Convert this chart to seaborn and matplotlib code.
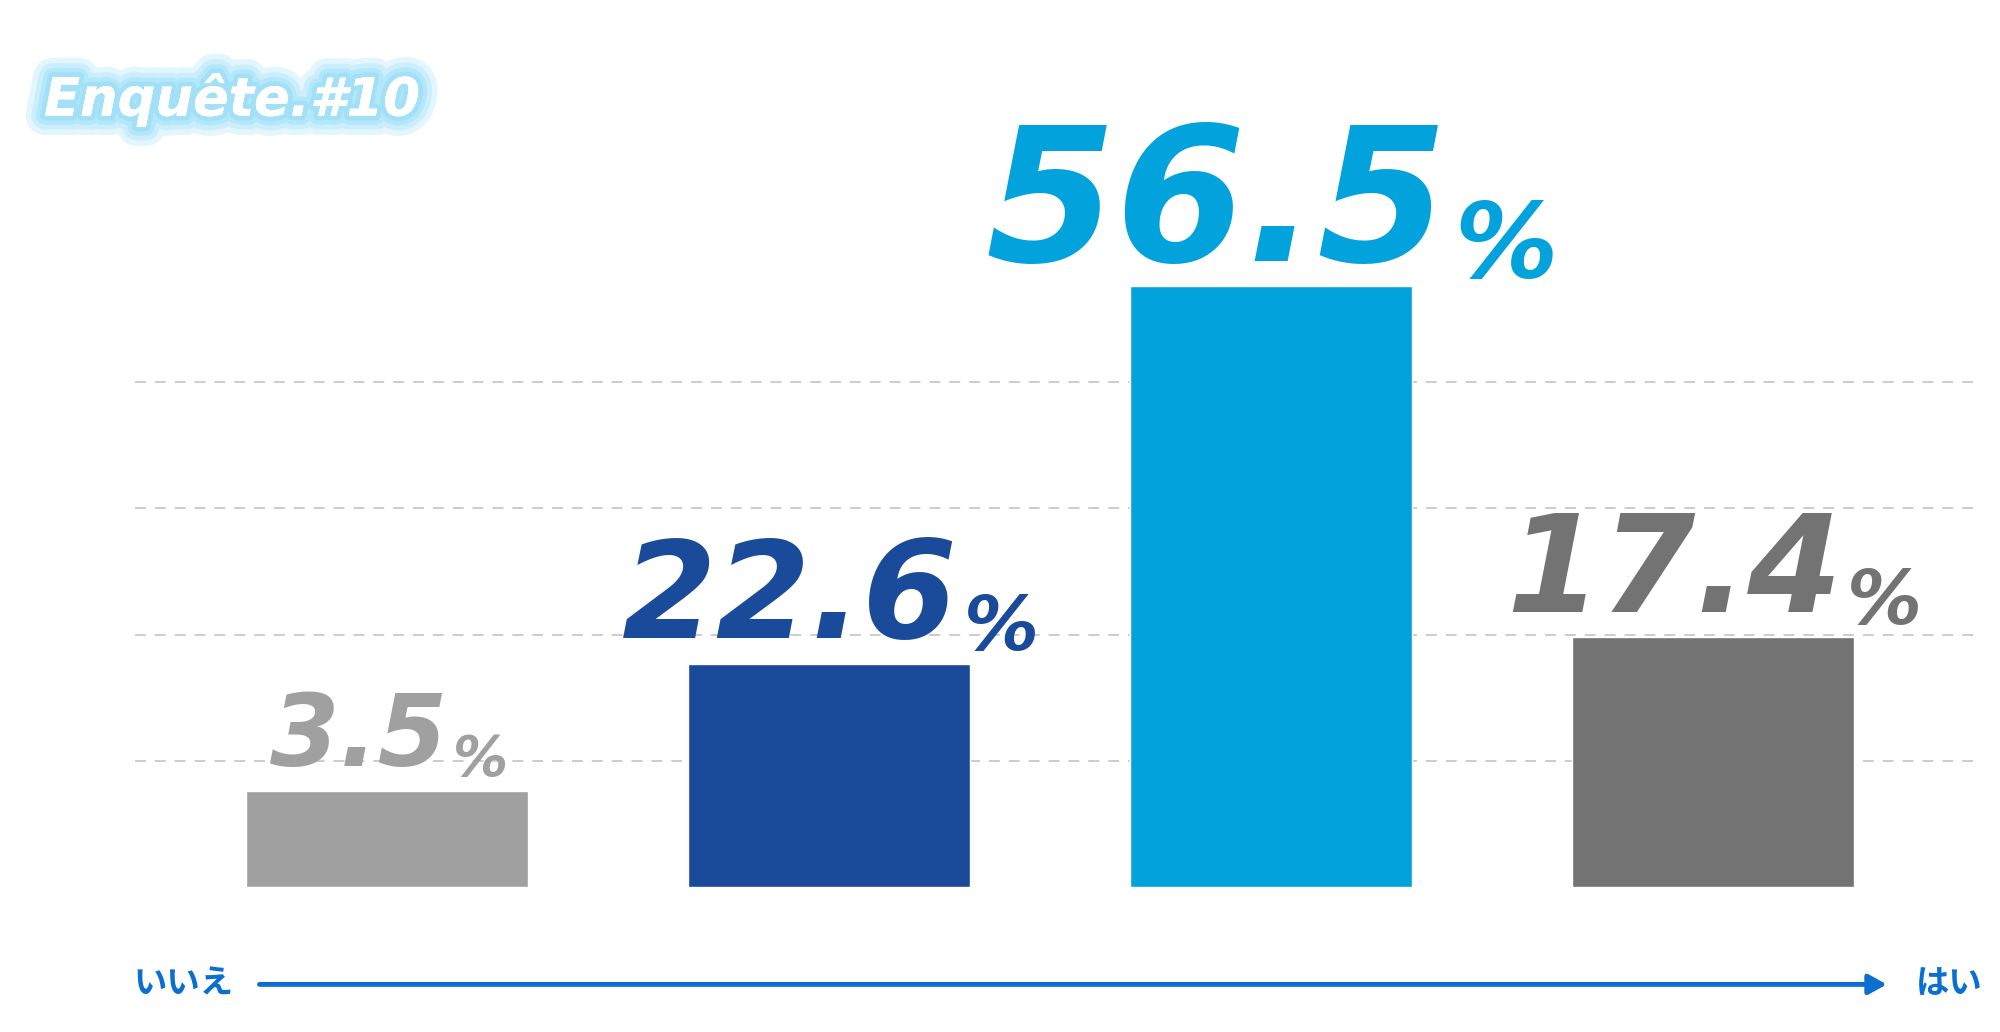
import matplotlib
matplotlib.use("Agg")
import matplotlib.pyplot as plt
import matplotlib.patheffects as pe
import seaborn as sns
import pandas as pd

# values shown on the chart
categories = ["A", "B", "C", "D"]
percents = ["3.5", "22.6", "56.5", "17.4"]
# bar heights as drawn (in grid-line units, the drawing is not to scale)
bar_heights = [0.76, 1.77, 4.76, 1.98]
colors = ["#a0a0a0", "#1a4a9a", "#02a3dd", "#737373"]
label_sizes = [72, 98, 135, 98]
axis_left = "いいえ"
axis_right = "はい"
title = "Enquête.#10"

sns.set_theme(style="white")
plt.rcParams["font.family"] = ["DejaVu Sans", "Noto Sans CJK JP"]

fig = plt.figure(figsize=(20, 10.32), dpi=100)
ax = fig.add_axes([0, 0, 1, 1])
df = pd.DataFrame({"cat": categories, "h": bar_heights})
sns.barplot(data=df, x="cat", y="h", hue="cat", palette=colors, width=0.638,
            legend=False, ax=ax, saturation=1)
ax.set_xlim(-0.876, 3.650)
ax.set_ylim(-1.147, 7.025)
ax.axis("off")

# dashed grid lines
for g in [1, 2, 3, 4]:
    ax.plot([-0.57, 3.59], [g, g], ls=(0, (6, 5)), color="#c8c8c8", lw=1.3, zorder=0)

# value labels
for i, (p, h, c, s) in enumerate(zip(percents, bar_heights, colors, label_sizes)):
    t = ax.text(i - 0.09 * s / 100, h + 0.2, p, ha="center", va="baseline",
                fontsize=s, fontweight="bold", style="italic", color=c)
    ax.annotate("%", xy=(1, 0), xycoords=t, xytext=(4, 0), textcoords="offset points",
                ha="left", va="bottom", fontsize=s * 0.55, fontweight="bold",
                style="italic", color=c)

# axis arrow
ax.annotate("", xy=(3.40, -0.77), xytext=(-0.295, -0.77),
            arrowprops=dict(arrowstyle="-|>,head_length=0.9,head_width=0.5",
                            color="#0a6fd0", lw=3.5))
ax.text(-0.46, -0.77, axis_left, ha="center", va="center", fontsize=24,
        fontweight="bold", color="#0a6fd0", family=["Noto Sans CJK JP"])
ax.text(3.535, -0.77, axis_right, ha="center", va="center", fontsize=24,
        fontweight="bold", color="#0a6fd0", family=["Noto Sans CJK JP"])

# glowing title
glow = [pe.withStroke(linewidth=w, foreground="#19b5f0", alpha=0.12) for w in (28, 20, 13, 7)]
fig.text(0.022, 0.888, title, fontsize=38, fontweight="bold", style="italic",
         color="white", path_effects=glow + [pe.Normal()])

fig.savefig("out.png", dpi=100)
